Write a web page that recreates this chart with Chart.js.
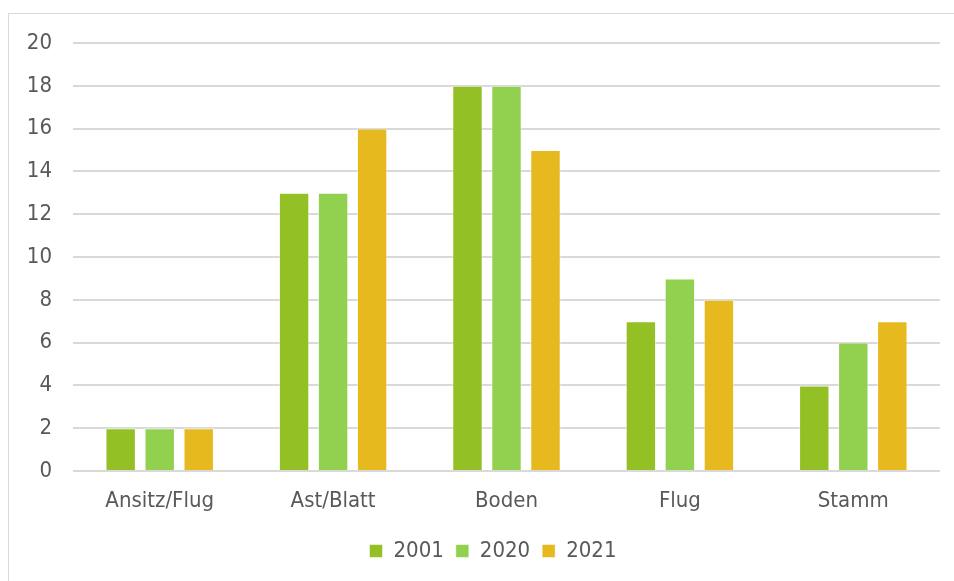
<!DOCTYPE html>
<html>
<head>
<meta charset="utf-8">
<script src="https://cdn.jsdelivr.net/npm/chart.js"></script>
<style>
    html, body { margin: 0; padding: 0; background: #ffffff; overflow: hidden; }
    #frame { position: absolute; left: 8px; top: 13px; width: 980px; height: 620px; border: 1px solid #d9d9d9; box-sizing: border-box; }
    #wrap { position: absolute; left: 0; top: 0; width: 954px; height: 581px; }
</style>
</head>
<body>
<div id="frame"></div>
<div id="wrap"><canvas id="rmChart" width="954" height="581"></canvas></div>
<script>
// categories and counts per year
const categories = ["Ansitz/Flug", "Ast/Blatt", "Boden", "Flug", "Stamm"];
const values_2001 = [2, 13, 18, 7, 4];
const values_2020 = [2, 13, 18, 9, 6];
const values_2021 = [2, 16, 15, 8, 7];
const y_ticks = [0, 2, 4, 6, 8, 10, 12, 14, 16, 18, 20];

const font_family = "'DejaVu Sans Condensed', 'DejaVu Sans', sans-serif";
const text_color = "#595959";
const grid_color = "#d9d9d9";

function make_set(label, data, color) {
    return {
        label: label,
        data: data,
        backgroundColor: color,
        borderColor: "rgba(255,255,255,0.5)",
        borderWidth: 1,
        categoryPercentage: 0.675,
        barPercentage: 0.78
    };
}

// centre the legend under the plot area instead of the whole canvas
const legendShift = {
    id: "legendShift",
    afterLayout(chart) {
        if (chart.legend) { chart.legend.left = chart.chartArea.left - 27; }
    }
};

const chart_config = {
    type: "bar",
    data: {
        labels: categories,
        datasets: [
            make_set("2001", values_2001, "#93c125"),
            make_set("2020", values_2020, "#92d050"),
            make_set("2021", values_2021, "#e6b91e")
        ]
    },
    options: {
        responsive: false,
        animation: false,
        layout: { padding: { top: 43, right: 14, left: 0, bottom: 9 } },
        scales: {
            x: {
                grid: { display: false },
                border: { display: false },
                ticks: { color: text_color, font: { family: font_family, size: 22 }, padding: 9 },
                afterFit: (scale) => { scale.height = 57; }
            },
            y: {
                min: 0,
                max: 20,
                afterBuildTicks: (scale) => { scale.ticks = y_ticks.map(v => ({ value: v })); },
                grid: { color: grid_color, lineWidth: 2, drawTicks: false },
                border: { display: false },
                ticks: { color: text_color, font: { family: font_family, size: 22 }, padding: 21 },
                afterFit: (scale) => { scale.width = 73; }
            }
        },
        plugins: {
            tooltip: { enabled: false },
            legend: {
                position: "bottom",
                labels: {
                    color: text_color,
                    font: { family: font_family, size: 22 },
                    boxWidth: 13,
                    boxHeight: 13,
                    padding: 12
                }
            }
        }
    },
    plugins: [legendShift]
};

new Chart(document.getElementById("rmChart"), chart_config);
</script>
</body>
</html>
